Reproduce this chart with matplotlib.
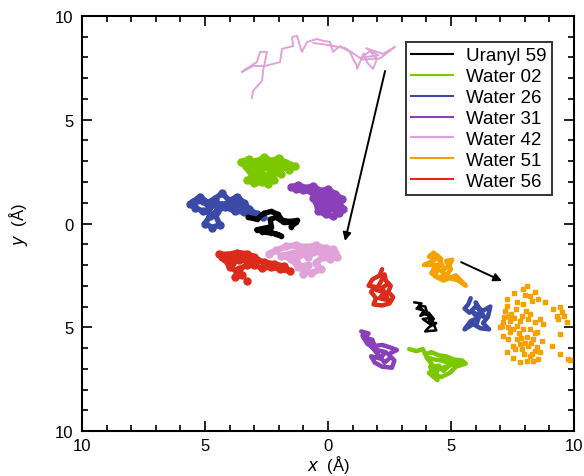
import numpy as np
import matplotlib.pyplot as plt
from matplotlib.lines import Line2D
from matplotlib.ticker import MultipleLocator, FuncFormatter

plt.rcParams['font.family'] = ['Liberation Sans', 'DejaVu Sans']

# species colours and legend labels
labels = ['Uranyl 59', 'Water 02', 'Water 26', 'Water 31', 'Water 42', 'Water 51', 'Water 56']
colors = ['#000000', '#7cc800', '#3a4aa6', '#8a40b8', '#e0a2d8', '#f5a100', '#dd2b1b']

# ---- positions before the move (x, y in Angstrom) ----
uranyl_a = [(-3.25, 0.3), (-2.9, 0.2), (-2.6, 0.5), (-2.3, 0.58), (-2.05, 0.45), (-1.85, 0.15),
            (-1.55, 0.1), (-1.25, 0.15), (-1.5, -0.15), (-1.3, 0.05), (-1.8, 0.05), (-2.1, 0.3),
            (-2.35, 0.2), (-2.3, -0.15), (-2.7, -0.25), (-2.9, -0.3), (-2.5, -0.4), (-2.1, -0.5),
            (-1.9, -0.6), (-2.3, -0.45), (-2.7, -0.4)]
water02_a = [(-3.55, 2.95), (-3.2, 3.1), (-2.9, 2.9), (-2.6, 3.2), (-2.3, 3.0), (-2.0, 3.15),
             (-1.7, 2.9), (-1.35, 2.75), (-1.6, 2.6), (-1.9, 2.75), (-2.2, 2.55), (-2.6, 2.7),
             (-3.0, 2.6), (-3.35, 2.75), (-3.1, 2.35), (-2.8, 2.45), (-2.5, 2.3), (-2.2, 2.1),
             (-2.45, 1.9), (-2.7, 2.0), (-3.0, 1.95), (-3.3, 2.1), (-2.9, 2.2), (-2.6, 2.05),
             (-2.35, 2.4), (-1.9, 2.4), (-2.1, 2.65), (-2.5, 2.85), (-3.0, 2.8), (-3.4, 2.9),
             (-2.75, 3.05), (-2.15, 2.85), (-1.55, 2.8)]
water26_a = [(-5.5, 1.05), (-5.2, 1.3), (-4.9, 1.0), (-4.6, 1.2), (-4.3, 1.45), (-4.0, 1.1),
             (-3.7, 1.3), (-3.4, 1.0), (-3.2, 0.7), (-2.9, 0.45), (-2.65, 0.3), (-3.0, 0.35),
             (-3.4, 0.55), (-3.8, 0.6), (-4.2, 0.8), (-4.5, 0.6), (-4.8, 0.35), (-5.0, 0.0),
             (-4.7, -0.2), (-4.4, -0.05), (-4.6, 0.45), (-5.1, 0.6), (-5.4, 0.75), (-5.6, 0.95),
             (-5.1, 1.1), (-4.5, 0.95), (-3.9, 0.85), (-3.5, 0.8), (-3.75, 1.05), (-4.85, 0.8)]
water31_a = [(-1.5, 1.75), (-1.2, 1.85), (-0.9, 1.7), (-0.6, 1.8), (-0.3, 1.55), (0.0, 1.65),
             (0.3, 1.4), (0.55, 1.2), (0.3, 1.0), (0.0, 1.2), (-0.3, 1.0), (-0.6, 1.25),
             (-0.4, 0.8), (-0.1, 0.6), (0.2, 0.75), (0.45, 0.5), (0.2, 0.35), (-0.1, 0.45),
             (-0.4, 0.6), (-0.2, 0.9), (0.1, 1.0), (0.4, 0.9), (0.6, 0.7), (0.35, 1.25),
             (0.05, 1.45), (-0.3, 1.3), (-0.7, 1.55), (-1.0, 1.6), (-1.3, 1.65)]
water42_a = [(-3.10, 6.03), (-3.05, 6.39), (-2.68, 6.87), (-2.64, 7.35), (-2.48, 8.27), (-2.76, 8.27),
             (-2.89, 7.78), (-3.46, 7.35), (-3.50, 7.30), (-3.05, 7.59), (-2.56, 7.59), (-1.95, 7.78),
             (-1.87, 8.41), (-1.42, 8.55), (-1.46, 8.99), (-1.26, 9.04), (-1.06, 8.27), (-0.85, 8.75),
             (-0.45, 8.89), (-0.20, 8.80), (0.08, 8.75), (0.20, 8.27), (0.49, 8.55), (0.89, 8.27),
             (1.02, 7.93), (1.18, 7.59), (1.18, 7.45), (1.45, 8.2), (1.6, 7.75), (1.83, 7.45),
             (1.99, 7.93), (1.7, 8.3), (1.35, 8.0), (2.05, 8.1), (1.55, 8.45), (2.24, 8.17),
             (2.72, 8.51), (2.1, 7.95), (1.4, 7.9), (0.7, 8.45), (0.0, 8.6), (-0.6, 8.7)]
water42_b = [(-2.4, -1.45), (-2.1, -1.3), (-1.7, -1.1), (-1.3, -1.05), (-0.9, -1.15), (-0.5, -1.05),
             (-0.1, -1.2), (0.3, -1.4), (0.1, -1.7), (-0.2, -1.6), (-0.5, -1.9), (-0.3, -2.2),
             (-0.7, -2.4), (-1.0, -2.2), (-1.3, -1.8), (-1.1, -1.45), (-0.8, -1.6), (-0.6, -1.35),
             (-0.2, -1.45), (0.35, -1.6), (0.2, -1.25), (-0.4, -1.3), (-1.0, -1.3), (-1.5, -1.45),
             (-1.9, -1.55), (-1.5, -1.7), (-1.2, -2.1), (-0.8, -2.0), (-1.0, -2.45)]
water56_a = [(-4.45, -1.45), (-4.1, -1.5), (-3.7, -1.4), (-3.3, -1.45), (-3.0, -1.6), (-3.2, -1.8),
             (-3.6, -1.75), (-3.9, -1.9), (-4.2, -1.7), (-4.0, -2.1), (-3.7, -2.3), (-3.5, -2.5),
             (-3.8, -2.6), (-3.6, -2.2), (-3.3, -2.0), (-3.0, -2.0), (-2.7, -2.15), (-2.3, -2.1),
             (-1.95, -2.2), (-1.55, -2.3), (-1.8, -2.05), (-2.2, -1.95), (-2.6, -1.85),
             (-2.9, -1.75), (-3.3, -1.6), (-3.85, -1.55), (-4.3, -1.6),
             (np.nan, np.nan), (-3.3, -2.78)]

# ---- positions after the move ----
uranyl_b = [(3.5, -3.8), (3.8, -3.85), (3.6, -4.1), (3.9, -4.2), (3.75, -4.45), (4.1, -4.3),
            (4.3, -4.6), (4.05, -4.75), (4.4, -4.8), (4.1, -5.0), (3.95, -5.2), (4.4, -5.15),
            (4.2, -4.55), (3.85, -4.6), (4.2, -4.9), (3.95, -4.0), (3.7, -3.95), (4.0, -4.4)]
water02_b = [(3.3, -6.05), (3.6, -6.15), (3.85, -6.05), (3.95, -6.3), (4.2, -6.2), (4.5, -6.35),
             (4.8, -6.4), (5.1, -6.55), (5.45, -6.6), (5.6, -6.75), (5.2, -6.9), (4.95, -7.2),
             (4.6, -7.4), (4.3, -7.25), (4.15, -6.9), (4.5, -6.85), (4.7, -7.1), (5.0, -6.75),
             (4.6, -6.6), (4.3, -6.55), (4.0, -6.45), (4.4, -7.05), (4.45, -7.55), (4.1, -7.2),
             (4.8, -6.9), (5.3, -6.7), (4.65, -6.45)]
water26_b = [(5.8, -3.6), (5.7, -3.9), (5.55, -4.1), (5.75, -4.3), (6.0, -4.0), (6.3, -4.2),
             (6.6, -4.0), (6.5, -4.5), (6.3, -4.8), (6.55, -5.1), (6.2, -5.05), (5.9, -4.85),
             (5.55, -5.1), (5.8, -4.7), (6.1, -4.55), (5.9, -4.3), (6.35, -4.5), (6.0, -3.8),
             (6.2, -4.3), (6.05, -4.8)]
water31_b = [(1.35, -5.2), (1.65, -5.3), (1.5, -5.5), (1.8, -5.6), (1.9, -5.9), (2.2, -5.85),
             (2.6, -6.0), (2.8, -6.1), (2.45, -6.3), (2.7, -6.6), (2.6, -6.95), (2.2, -6.9),
             (1.9, -6.7), (1.75, -6.4), (2.1, -6.5), (2.35, -6.2), (2.0, -6.1), (1.6, -5.8),
             (1.4, -5.4), (2.3, -6.7), (2.45, -6.55)]
water51_a = [(4.3, -1.4), (4.1, -1.6), (4.5, -1.65), (4.0, -1.95), (3.9, -2.0), (4.4, -2.0),
             (4.2, -2.4), (4.5, -2.6), (4.8, -2.5), (5.0, -2.2), (4.8, -1.8), (5.05, -1.75),
             (4.9, -2.05), (4.6, -2.3), (5.0, -2.65), (5.3, -2.75), (5.6, -3.0), (5.2, -2.5),
             (4.7, -2.75), (4.35, -2.55), (4.6, -1.7), (4.4, -1.5), (4.65, -2.0), (4.3, -2.2)]
water51_b = [(8.10, -3.03), (7.56, -3.35), (7.91, -3.16), (8.21, -3.51), (8.55, -3.64), (8.82, -3.80),
             (7.29, -3.64), (7.26, -3.96), (7.67, -3.80), (7.94, -3.88), (8.28, -3.72), (7.20, -4.20),
             (7.64, -4.12), (8.05, -4.20), (7.15, -4.52), (7.40, -4.68), (7.06, -4.92), (7.33, -5.00),
             (7.67, -4.92), (7.94, -5.08), (8.21, -5.08), (8.48, -5.24), (8.69, -5.65), (7.40, -5.24),
             (7.33, -5.57), (7.67, -5.57), (8.07, -5.49), (8.35, -5.57), (7.53, -5.89), (7.87, -6.05),
             (8.14, -5.89), (8.41, -6.13), (8.21, -6.37), (8.55, -6.53), (8.35, -6.61), (8.07, -6.61),
             (7.80, -6.66), (7.53, -6.50), (7.29, -6.21), (9.09, -5.89), (9.43, -5.33), (9.43, -6.29),
             (9.77, -6.53), (9.16, -4.12), (9.29, -4.44), (9.50, -4.28), (9.43, -4.04), (9.70, -4.76),
             (9.36, -4.60), (8.62, -4.60), (8.75, -4.84), (8.41, -4.76), (6.99, -5.00), (7.13, -5.41),
             (7.80, -4.68), (8.14, -4.60), (8.21, -4.36), (7.60, -6.05), (7.75, -5.3), (8.0, -5.75),
             (7.45, -4.35), (8.4, -5.3), (7.9, -4.45), (7.1, -4.75), (7.5, -5.1), (7.85, -5.5),
             (8.25, -5.75), (8.5, -5.95), (8.3, -6.3), (7.95, -6.3), (8.6, -6.2), (7.8, -5.8),
             (7.35, -4.45), (7.55, -4.55), (8.0, -3.45), (8.4, -3.3), (9.85, -6.6), (9.6, -4.45)]
water56_b = [(2.2, -2.2), (2.1, -2.5), (1.8, -2.7), (1.65, -3.0), (1.9, -3.05), (1.75, -3.3),
             (1.95, -3.6), (1.85, -3.9), (2.2, -3.95), (2.5, -3.85), (2.65, -3.55), (2.45, -3.3),
             (2.55, -3.0), (2.35, -2.75), (2.3, -2.45), (2.15, -2.8), (1.95, -3.2), (2.3, -3.3),
             (2.1, -3.6), (2.45, -3.7), (2.2, -3.1), (2.45, -2.9)]

# arrows (tail, head)
arrows = [((2.32, 7.35), (0.69, -0.84)), ((5.41, -1.86), (7.07, -2.77))]

fig = plt.figure(figsize=(5.84, 4.77), dpi=100)
ax = fig.add_axes([0.1404, 0.0943, 0.8425, 0.8701])


def trace(pts, col, lw=2.2, ms=0, marker='o'):
    a = np.array(pts, dtype=float)
    ax.plot(a[:, 0], a[:, 1], color=col, lw=lw, marker=marker if ms else None,
            ms=ms, mec=col, mfc=col, solid_joinstyle='round', solid_capstyle='round',
            zorder=3)


c = dict(zip(labels, colors))
# before (dense points)
trace(water02_a, c['Water 02'], lw=4.5, ms=5)
trace(water26_a, c['Water 26'], lw=4.0, ms=5)
trace(water31_a, c['Water 31'], lw=4.5, ms=5)
trace(water42_b, c['Water 42'], lw=4.5, ms=5)
trace(water56_a, c['Water 56'], lw=4.0, ms=5)
trace(uranyl_a, c['Uranyl 59'], lw=3.8, ms=3)
trace(water42_a, c['Water 42'], lw=1.4)
# after (lines)
trace(uranyl_b, c['Uranyl 59'], lw=1.8)
trace(water02_b, c['Water 02'], lw=3.2)
trace(water26_b, c['Water 26'], lw=3.2)
trace(water31_b, c['Water 31'], lw=3.2)
trace(water51_a, c['Water 51'], lw=3.2)
trace(water56_b, c['Water 56'], lw=3.2)
b = np.array(water51_b)
ax.plot(b[:, 0], b[:, 1], ls='none', marker='s', ms=3.5, color=c['Water 51'], zorder=3)

for (x0, y0), (x1, y1) in arrows:
    ax.annotate('', xy=(x1, y1), xytext=(x0, y0),
                arrowprops=dict(arrowstyle='-|>', color='black', lw=1.4,
                                mutation_scale=12, shrinkA=0, shrinkB=0))

ax.set_xlim(-10, 10)
ax.set_ylim(-10, 10)
for a in (ax.xaxis, ax.yaxis):
    a.set_major_locator(MultipleLocator(5))
    a.set_minor_locator(MultipleLocator(1))
    a.set_major_formatter(FuncFormatter(lambda v, p: f'{abs(v):g}'))
ax.tick_params(which='both', direction='in', top=True, right=True, width=1.2, labelsize=12)
ax.tick_params(axis='x', pad=5)
ax.tick_params(axis='y', pad=6)
ax.tick_params(which='major', length=7)
ax.tick_params(which='minor', length=4)
for sp in ax.spines.values():
    sp.set_linewidth(1.5)

ax.set_xlabel(r'$x$  (Å)', fontsize=12, labelpad=0)
ax.set_ylabel(r'$y$  (Å)', fontsize=12, labelpad=18)

handles = [Line2D([], [], color=col, lw=1.5) for col in colors]
leg = ax.legend(handles, labels, loc='upper right', bbox_to_anchor=(0.955, 0.938),
                fontsize=13.5, frameon=True, fancybox=False, handlelength=2.2,
                handletextpad=0.7, labelspacing=0.2, borderpad=0.3, borderaxespad=0)
leg.get_frame().set_edgecolor('black')
leg.get_frame().set_linewidth(1.4)

fig.savefig('out.png', dpi=100)
